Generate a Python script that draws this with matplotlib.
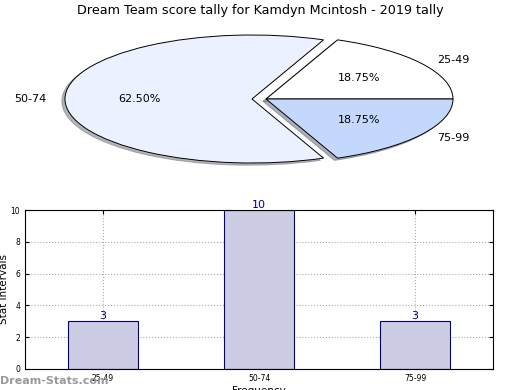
import matplotlib
matplotlib.use('Agg')
import matplotlib.pyplot as plt

# score buckets and how many games fell in each
categories = ['25-49', '50-74', '75-99']
counts = [3, 10, 3]
pie_colors = ['#FFFFFF', '#EBF1FE', '#C4D8FE']
explode = [0, 0.075, 0]

fig = plt.figure(figsize=(5.2, 3.9), dpi=100)

# pie on top, squashed into an ellipse
W, H = 520.0, 390.0
ax1 = fig.add_axes([(266 - 187) / W, 1 - (99 + 64) / H, 374 / W, 128 / H])
wedges, texts, autotexts = ax1.pie(counts, labels=categories, colors=pie_colors,
                                   explode=explode, autopct='%1.2f%%',
                                   shadow={'ox': -0.012, 'oy': -0.025, 'shade': 0.55},
                                   startangle=0, labeldistance=1.1, pctdistance=0.6,
                                   wedgeprops={'edgecolor': 'black', 'linewidth': 0.7},
                                   textprops={'fontsize': 8})
ax1.set_aspect('auto')
ax1.set_xlim(-1, 1)
ax1.set_ylim(-1, 1)
fig.suptitle('Dream Team score tally for Kamdyn Mcintosh - 2019 tally', fontsize=9.2, y=0.99)

# bar chart below
ax2 = fig.add_axes([25 / W, 1 - 369 / H, 468 / W, 159 / H])
x = range(len(categories))
bars = ax2.bar(x, counts, width=0.45, color='#CCCCE5', edgecolor='#000080', linewidth=0.8)
for xi, c in zip(x, counts):
    ax2.text(xi, c, str(c), ha='center', va='bottom', color='#000080', fontsize=8)
ax2.set_xlim(-0.5, 2.5)
ax2.set_ylim(0, 10)
ax2.set_xticks(list(x))
ax2.set_xticklabels(categories, fontsize=5.5)
ax2.set_yticks([0, 2, 4, 6, 8, 10])
ax2.tick_params(axis='y', labelsize=5.5)
ax2.tick_params(direction='in', top=True, right=True, length=3)
ax2.grid(True, linestyle=':', color='#AAAAAA', linewidth=0.8)
ax2.set_axisbelow(True)
ax2.set_ylabel('Stat Intervals', fontsize=7.5, labelpad=1)
ax2.set_xlabel('Frequency', fontsize=7.5, labelpad=2)

fig.text(0, 1 - 381 / H, 'Dream-Stats.com', fontsize=8, fontweight='bold',
         color='#999999', va='center', ha='left')

fig.savefig('out.png', dpi=100)
